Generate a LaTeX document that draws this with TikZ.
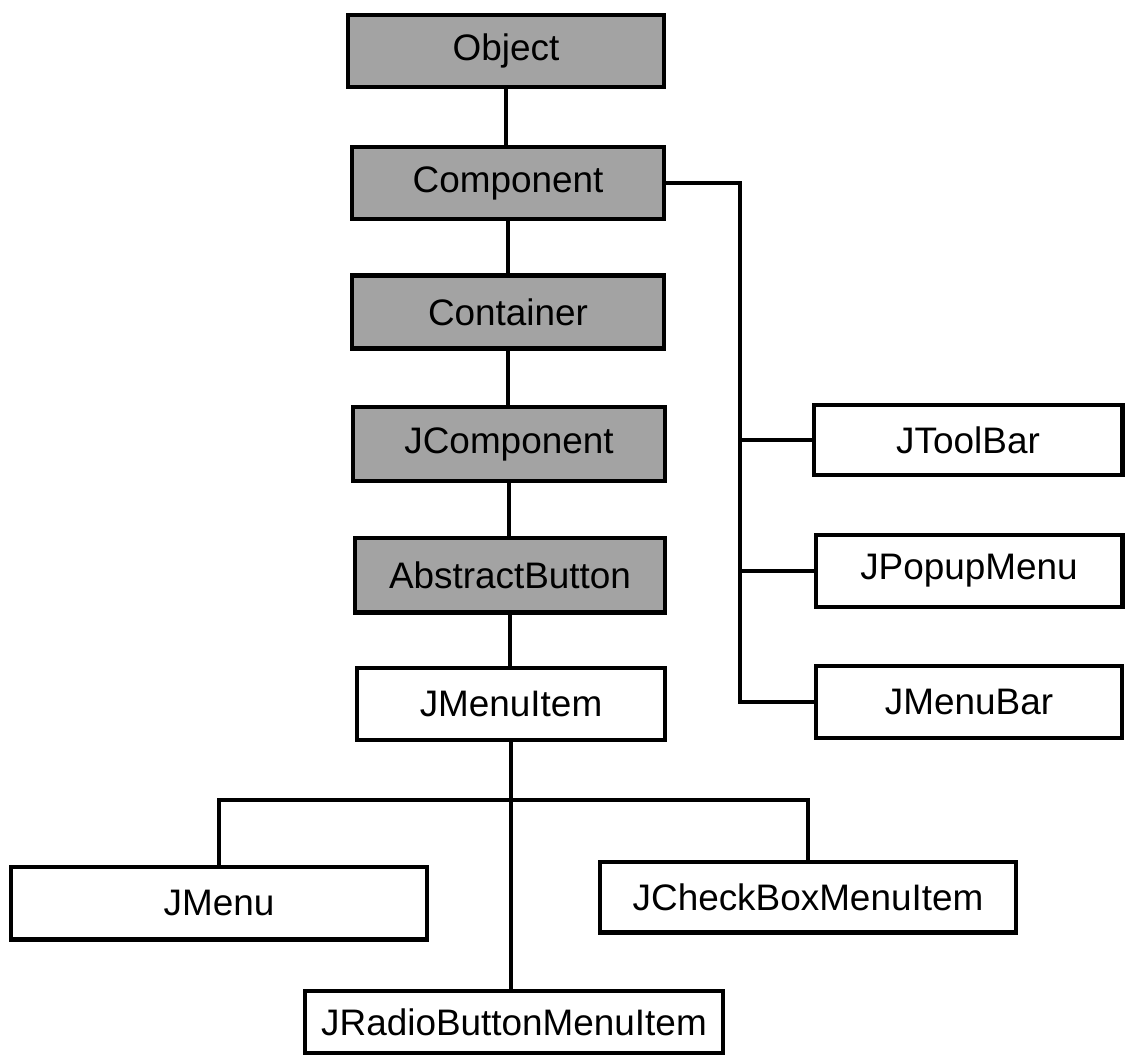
\documentclass[tikz,border=0pt]{standalone}
\usepackage{fontspec}
\setmainfont{Liberation Sans}
\begin{document}
\begin{tikzpicture}[x=0.02cm,y=-0.02cm,
  cls/.style={draw=black, line width=2.3pt, rectangle, inner sep=0pt,
    font=\fontsize{21}{25}\selectfont},
  basecls/.style={cls, fill=basegray},
  leafcls/.style={cls, fill=white},
  link/.style={line width=1.9pt, line cap=rect}]
\definecolor{basegray}{RGB}{163,163,163}
\useasboundingbox (0,0) rectangle (1125,1059);

% inheritance chain
\node[basecls, minimum width=6.34cm, minimum height=1.44cm] (obj)  at (506,51)  {Object};
\node[basecls, minimum width=6.24cm, minimum height=1.44cm] (comp) at (508,183) {Component};
\node[basecls, minimum width=6.24cm, minimum height=1.46cm] (cont) at (508,312) {Container};
\node[basecls, minimum width=6.24cm, minimum height=1.48cm] (jcomp) at (509,444) {JComponent};
\node[basecls, minimum width=6.20cm, minimum height=1.50cm] (absb) at (510,575) {AbstractButton};
\node[leafcls, minimum width=6.16cm, minimum height=1.44cm] (jmi)  at (511,704) {JMenuItem};

% direct JComponent subclasses on the right
\node[leafcls, minimum width=6.18cm, minimum height=1.40cm] (jtb)  at (968,440) {JToolBar};
\node[leafcls, minimum width=6.14cm, minimum height=1.44cm] (jpm)  at (969,571) {JPopupMenu};
\node[leafcls, minimum width=6.12cm, minimum height=1.44cm] (jmb)  at (969,702) {JMenuBar};

% menu item subclasses
\node[leafcls, minimum width=8.32cm, minimum height=1.46cm] (jmenu) at (219,903)  {JMenu};
\node[leafcls, minimum width=8.34cm, minimum height=1.42cm] (jcb)   at (808,897)  {JCheckBoxMenuItem};
\node[leafcls, minimum width=8.36cm, minimum height=1.24cm] (jrb)   at (514,1022) {JRadioButtonMenuItem};

% bus positions
\coordinate (rbus) at (740,183);
\coordinate (hbus) at (511,800);

% vertical chain
\draw[link] (obj.south) -- (obj.south |- comp.north);
\draw[link] (comp.south) -- (comp.south |- cont.north);
\draw[link] (cont.south) -- (cont.south |- jcomp.north);
\draw[link] (jcomp.south) -- (jcomp.south |- absb.north);
\draw[link] (absb.south) -- (absb.south |- jmi.north);

% right-hand bus from Component
\draw[link] (comp.east) -- (rbus) -- (rbus |- jmb.west) -- (jmb.west);
\draw[link] (rbus |- jtb.west) -- (jtb.west);
\draw[link] (rbus |- jpm.west) -- (jpm.west);

% lower bus from JMenuItem
\draw[link] (jmi.south) -- (jmi.south |- jrb.north);
\draw[link] (jmenu.north) -- (jmenu.north |- hbus) -- (jcb.north |- hbus) -- (jcb.north);
\end{tikzpicture}
\end{document}
